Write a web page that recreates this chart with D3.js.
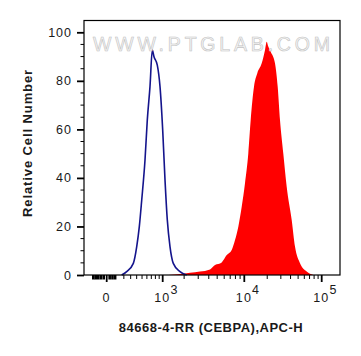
<!DOCTYPE html>
<html>
<head>
<meta charset="utf-8">
<script src="https://cdn.jsdelivr.net/npm/d3@7"></script>
<style>
  html, body { margin: 0; padding: 0; background: #ffffff; }
  svg { display: block; }
  text { font-family: "Liberation Sans", Arial, sans-serif; fill: #1a1a1a; }
</style>
</head>
<body>
<div id="chart"></div>
<script>
// ---------- data ----------
const xTitle = "84668-4-RR (CEBPA),APC-H";
const yTitle = "Relative Cell Number";
const watermark = "WWW.PTGLAB.COM";

const yTicks = [0, 20, 40, 60, 80, 100];
const xMajorTicks = [0, 1000, 10000, 100000];
const xMajorLabels = [["0", ""], ["10", "3"], ["10", "4"], ["10", "5"]];
const xNearZeroTicks = [-150, -120, -90, -60, -30, 30, 60, 90];
const xMinorTicks = [200, 300, 400, 500, 600, 700, 800, 900,
  2000, 3000, 4000, 5000, 6000, 7000, 8000, 9000,
  20000, 30000, 40000, 50000, 60000, 70000, 80000, 90000];

// control (isotype) histogram: fluorescence, relative count
const controlX = [171, 240, 343, 401, 448, 494, 560, 609, 669, 723, 765, 849, 923, 1000, 1085, 1174, 1285, 1431, 1766, 2159];
const controlY = [0, 1.4, 4.8, 11.7, 19.9, 30.9, 47.4, 63.9, 77.6, 92.7, 89.9, 86.5, 77.6, 59.7, 39.1, 22.7, 11.7, 4.8, 1.4, 0];

// CEBPA stained histogram
const sampleX = [1214, 1766, 2377, 3151, 4135, 4722, 5626, 6403, 7275, 7913, 8603, 9370, 10215, 11300, 12155, 13435, 14845, 16950, 18715, 19690, 20655, 22190, 25215, 27325, 29255, 32265, 35685, 41370, 45600, 52850, 64350, 78150];
const sampleY = [0, 0.4, 0.9, 1.4, 2.3, 4.1, 5.2, 8.2, 10.3, 14.4, 19.9, 28.1, 37.8, 50.1, 63.9, 77.6, 83.1, 87.2, 92.7, 96.1, 94.1, 92.0, 87.2, 77.6, 63.9, 50.1, 36.4, 22.7, 11.7, 4.8, 1.4, 0];

// ---------- layout ----------
const W = 361, H = 356;
const plot = { left: 84, right: 340, top: 20.5, bottom: 275 };

const svg = d3.select("#chart").append("svg")
  .attr("width", W).attr("height", H);

// biexponential-like x scale (symlog transform, piecewise on decades)
const C = 500;
const T = v => Math.sign(v) * Math.log1p(Math.abs(v) / C);
const tScale = d3.scaleLinear()
  .domain([T(0), T(1000), T(10000), T(100000)])
  .range([106.7, 162.7, 244.3, 321.7]);
const x = v => tScale(T(v));

const y = d3.scaleLinear().domain([0, 100]).range([plot.bottom, 32.3]);

// ---------- histograms ----------
const sample = sampleX.map((v, i) => [v, sampleY[i]]);
const control = controlX.map((v, i) => [v, controlY[i]]);

const area = d3.area()
  .x(d => x(d[0])).y0(y(0)).y1(d => y(d[1]))
  .curve(d3.curveMonotoneX);
svg.append("path").datum(sample)
  .attr("d", area)
  .attr("fill", "#ff0000");

const line = d3.line()
  .x(d => x(d[0])).y(d => y(d[1]))
  .curve(d3.curveMonotoneX);
svg.append("path").datum(control)
  .attr("d", line)
  .attr("fill", "none")
  .attr("stroke", "#14148c")
  .attr("stroke-width", 1.6);

// ---------- watermark ----------
svg.append("text")
  .attr("x", 93).attr("y", 50.5)
  .attr("textLength", 237).attr("lengthAdjust", "spacing")
  .style("font-size", "19.5px")
  .style("fill", "#f4f4f4")
  .style("fill-opacity", 0.85)
  .style("stroke", "#c2c2c2")
  .style("stroke-width", 0.6)
  .text(watermark);

// ---------- frame ----------
svg.append("rect")
  .attr("x", plot.left).attr("y", plot.top)
  .attr("width", plot.right - plot.left).attr("height", plot.bottom - plot.top)
  .attr("fill", "none").attr("stroke", "#000").attr("stroke-width", 1.2);

// ---------- y axis ----------
const yAxis = d3.axisLeft(y).tickValues(yTicks).tickSize(7).tickPadding(5).tickFormat(d3.format("d"));
const gy = svg.append("g").attr("transform", `translate(${plot.left},0)`).call(yAxis);
gy.select(".domain").remove();
gy.selectAll(".tick line").attr("stroke", "#000").attr("stroke-width", 1.8);
gy.selectAll(".tick text")
  .style("font-size", "12.5px").style("letter-spacing", "1px")
  .style("font-family", "'Liberation Sans', Arial, sans-serif").attr("fill", "#1a1a1a");

const yMinor = d3.range(5, 100, 5).filter(v => v % 20 !== 0);
svg.append("g").selectAll("line").data(yMinor).join("line")
  .attr("x1", plot.left - 3.5).attr("x2", plot.left)
  .attr("y1", d => y(d)).attr("y2", d => y(d))
  .attr("stroke", "#000").attr("stroke-width", 1);

// ---------- x axis ----------
const gx = svg.append("g");
gx.selectAll("line.major").data(xMajorTicks).join("line")
  .attr("class", "major")
  .attr("x1", d => x(d)).attr("x2", d => x(d))
  .attr("y1", plot.bottom).attr("y2", plot.bottom + 7)
  .attr("stroke", "#000").attr("stroke-width", 1.8);
gx.selectAll("line.minor").data(xMinorTicks).join("line")
  .attr("class", "minor")
  .attr("x1", d => x(d)).attr("x2", d => x(d))
  .attr("y1", plot.bottom).attr("y2", plot.bottom + 4)
  .attr("stroke", "#000").attr("stroke-width", 1);
gx.selectAll("line.zero").data(xNearZeroTicks).join("line")
  .attr("class", "zero")
  .attr("x1", d => x(d)).attr("x2", d => x(d))
  .attr("y1", plot.bottom).attr("y2", plot.bottom + 4.5)
  .attr("stroke", "#000").attr("stroke-width", 2.6);

const labels = gx.selectAll("text.xl").data(xMajorTicks).join("text")
  .attr("class", "xl")
  .attr("x", (d, i) => x(d) + (i === 0 ? 0 : -8.5))
  .attr("y", 301.5)
  .attr("text-anchor", (d, i) => i === 0 ? "middle" : "start")
  .style("font-size", "12.5px").style("letter-spacing", "1.2px");
labels.append("tspan").text((d, i) => xMajorLabels[i][0]);
labels.append("tspan").attr("dy", -7.5).text((d, i) => xMajorLabels[i][1]);

// ---------- titles ----------
svg.append("text")
  .attr("x", 211).attr("y", 332)
  .attr("text-anchor", "middle")
  .style("font-size", "13px").style("font-weight", "bold").style("letter-spacing", "0.5px")
  .text(xTitle);

svg.append("text")
  .attr("transform", "translate(32,143) rotate(-90)")
  .attr("text-anchor", "middle")
  .style("font-size", "13px").style("font-weight", "bold").style("letter-spacing", "0.9px")
  .text(yTitle);
</script>
</body>
</html>
